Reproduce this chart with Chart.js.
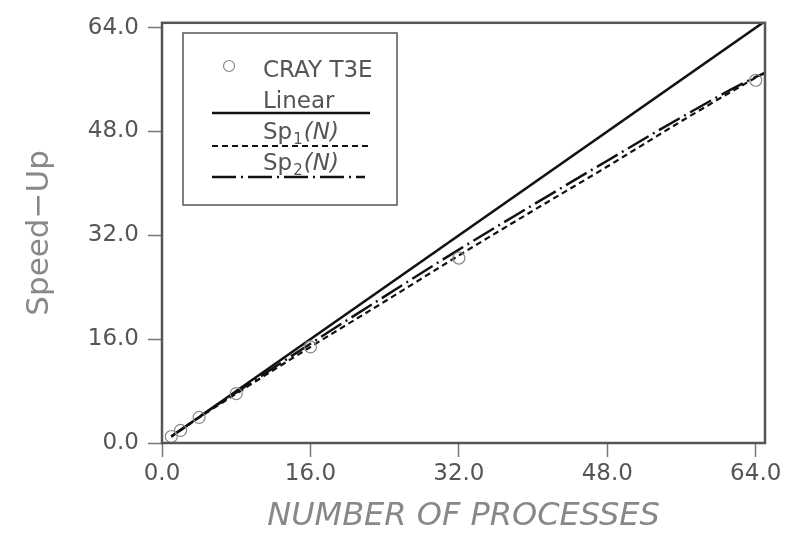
<!DOCTYPE html>
<html>
<head>
<meta charset="utf-8">
<title>Speed-Up</title>
<script src="https://cdn.jsdelivr.net/npm/chart.js@4.4.1/dist/chart.umd.min.js"></script>
<style>
    html, body { margin: 0; padding: 0; background: #fff; }
    #wrap { width: 791px; height: 533px; }
</style>
</head>
<body>
<div id="wrap"><canvas id="chart" width="791" height="533"></canvas></div>
<script>
// measured CRAY T3E speed-ups
const N_PROCS = [1, 2, 4, 8, 16, 32, 64];
const SPEEDUP_T3E = [1.0, 1.95, 3.95, 7.6, 14.8, 28.5, 55.9];

// ideal speed-up
const LINEAR_X = [1, 65];
const LINEAR_Y = [1, 65];

// model curves
const CURVE_X = [1, 2, 4, 8, 16, 24, 32, 40, 48, 56, 64, 65];
const SP1 = [1.0, 1.97, 3.9, 7.6, 14.8, 21.8, 28.9, 35.8, 42.6, 49.6, 56.3, 57.1];
const SP2 = [1.0, 2.0, 4.0, 7.8, 15.3, 22.6, 29.8, 36.7, 43.5, 50.2, 56.4, 57.0];

const AXIS_TICKS = [0, 16, 32, 48, 64];

const FONT = '"DejaVu Sans", sans-serif';

function points(xs, ys) {
    return xs.map((x, i) => ({x: x, y: ys[i]}));
}

// frame around the whole plot area
const framePlugin = {
    id: 'frame',
    afterDraw(chart) {
        let a = chart.chartArea,
            ctx = chart.ctx;
        ctx.save();
        ctx.strokeStyle = '#555';
        ctx.lineWidth = 2.5;
        ctx.strokeRect(a.left, a.top, a.right - a.left, a.bottom - a.top);
        ctx.restore();
    }
};

// boxed legend, labels sit above their line samples
const legendPlugin = {
    id: 'boxLegend',
    afterDatasetsDraw(chart) {
        let ctx = chart.ctx,
            ds = chart.data.datasets,
            bx = 183, by = 33, bw = 214, bh = 172;
        ctx.save();
        ctx.fillStyle = '#fff';
        ctx.fillRect(bx, by, bw, bh);
        ctx.strokeStyle = '#555';
        ctx.lineWidth = 1.5;
        ctx.strokeRect(bx, by, bw, bh);

        ctx.fillStyle = '#555';
        ctx.textBaseline = 'alphabetic';
        ctx.textAlign = 'left';
        ctx.font = '23px ' + FONT;

        // marker entry
        ctx.beginPath();
        ctx.arc(bx + 46, by + 33, 5.5, 0, Math.PI * 2);
        ctx.strokeStyle = ds[0].borderColor;
        ctx.lineWidth = ds[0].borderWidth;
        ctx.stroke();
        ctx.fillText('CRAY T3E', bx + 80, by + 44);

        // line entries
        let rows = [
            {ds: ds[1], text: ['Linear'], base: 75, line: 80, end: 187},
            {ds: ds[2], text: ['Sp', '1', '(N)'], base: 106, line: 113, end: 187},
            {ds: ds[3], text: ['Sp', '2', '(N)'], base: 137, line: 144, end: 182}
        ];
        rows.forEach((r) => {
            let x = bx + 80;
            ctx.font = '23px ' + FONT;
            ctx.fillText(r.text[0], x, by + r.base);
            if (r.text.length > 1) {
                x += ctx.measureText(r.text[0]).width + 1;
                ctx.font = '15px ' + FONT;
                ctx.fillText(r.text[1], x, by + r.base + 5);
                x += ctx.measureText(r.text[1]).width + 1;
                ctx.font = 'italic 23px ' + FONT;
                ctx.fillText(r.text[2], x, by + r.base);
            }
            ctx.beginPath();
            ctx.setLineDash(r.ds.borderDash || []);
            ctx.strokeStyle = r.ds.borderColor;
            ctx.lineWidth = r.ds.borderWidth;
            ctx.moveTo(bx + 29, by + r.line);
            ctx.lineTo(bx + r.end, by + r.line);
            ctx.stroke();
            ctx.setLineDash([]);
        });
        ctx.restore();
    }
};

const axisBase = {
    type: 'linear',
    min: 0,
    border: {display: false},
    grid: {
        drawOnChartArea: false,
        drawTicks: true,
        tickLength: 14,
        tickColor: '#777',
        tickWidth: 1.5
    },
    afterBuildTicks: (scale) => {
        scale.ticks = AXIS_TICKS.map((v) => ({value: v}));
    }
};

new Chart(document.getElementById('chart'), {
    type: 'scatter',
    data: {
        datasets: [
            {
                label: 'CRAY T3E',
                data: points(N_PROCS, SPEEDUP_T3E),
                showLine: false,
                pointStyle: 'circle',
                pointRadius: 6,
                borderColor: '#888',
                borderWidth: 1.2,
                backgroundColor: 'rgba(0,0,0,0)'
            },
            {
                label: 'Linear',
                data: points(LINEAR_X, LINEAR_Y),
                showLine: true,
                pointRadius: 0,
                borderColor: '#111',
                borderWidth: 2.5
            },
            {
                label: 'Sp1(N)',
                data: points(CURVE_X, SP1),
                showLine: true,
                pointRadius: 0,
                borderColor: '#111',
                borderWidth: 2.2,
                borderDash: [6, 4],
                cubicInterpolationMode: 'monotone'
            },
            {
                label: 'Sp2(N)',
                data: points(CURVE_X, SP2),
                showLine: true,
                pointRadius: 0,
                borderColor: '#111',
                borderWidth: 2.5,
                borderDash: [24, 5, 2, 5],
                cubicInterpolationMode: 'monotone'
            }
        ]
    },
    options: {
        responsive: false,
        animation: false,
        layout: {padding: {top: 13, right: 26, left: 0, bottom: 0}},
        plugins: {
            legend: {display: false},
            tooltip: {enabled: false}
        },
        scales: {
            x: Object.assign({}, axisBase, {
                max: 65,
                ticks: {
                    padding: 3,
                    color: '#555',
                    font: {family: FONT, size: 23},
                    maxRotation: 0,
                    callback: (v) => v.toFixed(1)
                },
                title: {
                    display: true,
                    text: 'NUMBER OF PROCESSES',
                    color: '#888',
                    font: {family: FONT, size: 32, style: 'italic', lineHeight: 1},
                    padding: {top: 0, bottom: 0}
                },
                afterFit: (scale) => { scale.height = 90; }
            }),
            y: Object.assign({}, axisBase, {
                max: 64.75,
                ticks: {
                    padding: 9,
                    color: '#555',
                    font: {family: FONT, size: 23},
                    callback: (v) => v.toFixed(1)
                },
                title: {
                    display: true,
                    text: 'Speed\u2212Up',
                    color: '#888',
                    font: {family: FONT, size: 31, lineHeight: 1},
                    padding: {top: 24, bottom: 0}
                },
                afterFit: (scale) => { scale.width = 162; }
            })
        }
    },
    plugins: [framePlugin, legendPlugin]
});
</script>
</body>
</html>
